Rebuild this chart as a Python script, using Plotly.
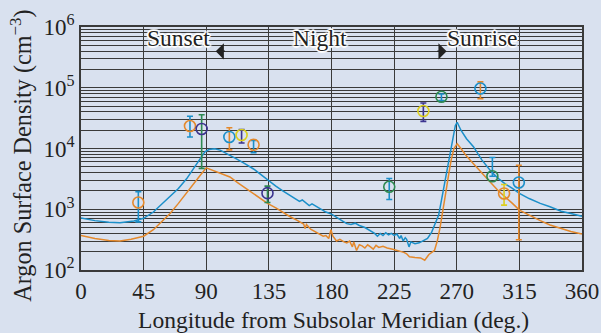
import plotly.graph_objects as go

# ---------------- data ----------------
blue_lon = [0, 10, 20, 28, 38, 45, 52, 58, 64, 70, 76, 82, 86, 89, 92, 96, 100, 106, 112, 118,
            124, 130, 135, 140, 145, 150, 154, 157, 159, 162, 164, 166, 168, 172, 176, 180, 184,
            188, 191, 194, 197, 200, 204, 208, 211, 213, 215, 217, 219, 221, 223, 225, 227, 229,
            230, 231.5, 233, 234, 235.7, 237, 240, 243, 246, 249, 252, 255, 257, 259, 261, 263,
            265, 267, 269, 270.3, 273, 277, 282, 288, 295, 300, 305, 310, 315, 322, 330, 337,
            345, 352, 360]
blue_val = [720, 650, 610, 600, 640, 710, 900, 1200, 1600, 2200, 3200, 5000, 7000, 8800, 9600,
            9900, 9400, 8000, 6700, 5600, 4600, 3600, 2900, 2400, 2000, 1700, 1500, 1350, 1420,
            1250, 1150, 1230, 1150, 1000, 900, 830, 740, 640, 580, 560, 590, 540, 500, 440, 400,
            360, 400, 370, 410, 380, 400, 370, 390, 330, 370, 300, 340, 320, 240, 290, 270, 280,
            300, 330, 420, 600, 800, 1400, 2500, 4000, 8000, 14000, 24000, 27000, 20000, 14500,
            10700, 6500, 4100, 3200, 2600, 2200, 1820, 1500, 1250, 1100, 930, 850, 770]

orange_lon = [0, 10, 20, 28, 36, 45, 52, 58, 64, 70, 76, 81, 86, 90, 94, 100, 107, 113, 120, 127,
              134, 140, 145, 150, 155, 160, 161, 162, 165, 168, 171, 174, 176, 178, 179.6, 181,
              183.6, 186, 189, 191, 193, 195, 196, 198, 200, 202, 204, 206, 208, 210, 212, 214,
              217, 220, 224, 228, 232, 234, 236, 240, 244, 247, 250, 254, 256, 258, 260, 262,
              264, 266, 268, 270.3, 273, 277, 282, 288, 295, 300, 305, 310, 315, 322, 330, 337,
              345, 352, 360]
orange_val = [370, 330, 305, 300, 320, 360, 460, 620, 850, 1250, 1900, 2700, 3700, 4800, 4400,
              3900, 3400, 2700, 2100, 1600, 1250, 1050, 880, 760, 660, 570, 480, 560, 470, 430,
              400, 360, 370, 330, 460, 360, 300, 320, 290, 280, 300, 240, 290, 210, 260, 250,
              230, 260, 240, 220, 255, 235, 245, 230, 220, 210, 195, 185, 165, 160, 158, 145,
              180, 210, 300, 500, 900, 1800, 3500, 6500, 10000, 12000, 10000, 7500, 5600, 3900,
              2650, 2000, 1600, 1250, 970, 800, 650, 550, 480, 430, 390]

# observations: longitude, value, upper and lower end of error bar
obs_lon = [41.2, 78.3, 86.7, 106.6, 115.4, 124, 134, 221.5, 246, 259, 287, 295.6, 304, 314.6]
obs_val = [1290, 23500, 21000, 15500, 16700, 11500, 1840, 2350, 41500, 71000, 97000, 3500, 1820, 2760]
obs_hi = [1950, 34000, 36000, 22000, 20500, 13600, 2400, 3200, 56000, 79000, 125000, 7100, 2550, 5300]
obs_lo = [620, 15500, 4700, 9500, 12300, 8500, 1290, 1450, 28000, 61500, 66000, 3500, 1170, 315]
obs_marker_src = ["O", "O", "P", "B", "Y", "O", "P", "G", "Y", "G", "B", "G", "O", "B"]
obs_bar_src = ["B", "B", "G", "O", "P", "B", "G", "B", "P", "B", "O", "B", "Y", "O"]

x_ticks = [0, 45, 90, 135, 180, 225, 270, 315, 360]
y_ticks = [1e2, 1e3, 1e4, 1e5, 1e6]
y_ticktext = ["10<sup>2</sup>", "10<sup>3</sup>", "10<sup>4</sup>", "10<sup>5</sup>", "10<sup>6</sup>"]
y_minor = [m * 10 ** e for e in range(2, 6) for m in range(2, 10)]

region_labels = ["Sunset", "Night", "Sunrise"]
region_lon = [70, 171.7, 288.8]

x_title = "Longitude from Subsolar Meridian (deg.)"
y_title = "Argon Surface Density (cm<sup>−3</sup>)"

# ---------------- style ----------------
COL = {"B": "#1b8fc9", "O": "#e4892c", "P": "#3b338f", "Y": "#dccf1e", "G": "#2e8a52"}
BG = "#d9e1ef"
GRID = "#3a3a3a"
FONT = "Liberation Serif"

fig = go.Figure()

fig.add_trace(go.Scatter(x=blue_lon, y=blue_val, mode="lines",
                         line=dict(color=COL["B"], width=1.5), showlegend=False))
fig.add_trace(go.Scatter(x=orange_lon, y=orange_val, mode="lines",
                         line=dict(color=COL["O"], width=1.5), showlegend=False))

# error bars, grouped by bar colour
for key in COL:
    idx = [i for i, s in enumerate(obs_bar_src) if s == key]
    if not idx:
        continue
    fig.add_trace(go.Scatter(
        x=[obs_lon[i] for i in idx], y=[obs_val[i] for i in idx], mode="markers",
        marker=dict(size=1, opacity=0),
        error_y=dict(type="data", symmetric=False,
                     array=[obs_hi[i] - obs_val[i] for i in idx],
                     arrayminus=[obs_val[i] - obs_lo[i] for i in idx],
                     color=COL[key], thickness=1.6, width=3),
        showlegend=False))

# circles, grouped by marker colour
for key in COL:
    idx = [i for i, s in enumerate(obs_marker_src) if s == key]
    if not idx:
        continue
    fig.add_trace(go.Scatter(
        x=[obs_lon[i] for i in idx], y=[obs_val[i] for i in idx], mode="markers",
        marker=dict(symbol="circle-open", size=11, color=COL[key], line=dict(width=1.6)),
        showlegend=False))

halo = ("1px 1px 0 #fff, -1px -1px 0 #fff, 1px -1px 0 #fff, -1px 1px 0 #fff, "
        "2px 0 1px #fff, -2px 0 1px #fff, 0 2px 1px #fff, 0 -2px 1px #fff")
for lab, lon in zip(region_labels, region_lon):
    fig.add_annotation(x=lon, y=5.82, xref="x", yref="y", text=lab, showarrow=False,
                       font=dict(family=FONT, size=23.5, color="#222", shadow=halo))

# arrow heads pointing away from the night side
fig.add_annotation(x=96.8, y=5.6, ax=104.5, ay=5.6, xref="x", yref="y", axref="x", ayref="y",
                   text="", showarrow=True, arrowhead=1, arrowsize=1.7, arrowwidth=1.6,
                   arrowcolor="#222")
fig.add_annotation(x=262.7, y=5.6, ax=255.0, ay=5.6, xref="x", yref="y", axref="x", ayref="y",
                   text="", showarrow=True, arrowhead=1, arrowsize=1.7, arrowwidth=1.6,
                   arrowcolor="#222")

# axis titles
fig.add_annotation(x=0.503, y=-0.206, xref="paper", yref="paper", text=x_title,
                   showarrow=False, xanchor="center", yanchor="middle",
                   font=dict(family=FONT, size=23.6, color="#222"))
fig.add_annotation(x=-0.1204, y=0.469, xref="paper", yref="paper", text=y_title,
                   showarrow=False, xanchor="center", yanchor="middle", textangle=-90,
                   font=dict(family=FONT, size=24.2, color="#222"))

fig.update_layout(
    width=601, height=333,
    margin=dict(l=81, r=19, t=27, b=63),
    paper_bgcolor=BG, plot_bgcolor=BG,
    font=dict(family=FONT, color="#222"),
    xaxis=dict(range=[0, 360], tickvals=x_ticks, showgrid=True, gridcolor=GRID, gridwidth=1,
               zeroline=False, showline=True, linecolor="#3a3a3a", linewidth=1.5, mirror=True,
               ticks="", automargin=False, tickfont=dict(family=FONT, size=23, color="#222")),
    yaxis=dict(type="log", range=[2, 6], tickvals=y_ticks, ticktext=y_ticktext,
               showgrid=True, gridcolor=GRID, gridwidth=1,
               minor=dict(tickvals=y_minor, showgrid=True, gridcolor=GRID, gridwidth=1, ticks=""),
               zeroline=False, showline=True, linecolor="#3a3a3a", linewidth=1.5, mirror=True,
               ticks="", automargin=False, tickfont=dict(family=FONT, size=23, color="#222")),
)

fig.write_html("out.html", config={"displayModeBar": False},
               post_script="document.body.style.margin='0';document.body.style.background='%s';" % BG)
